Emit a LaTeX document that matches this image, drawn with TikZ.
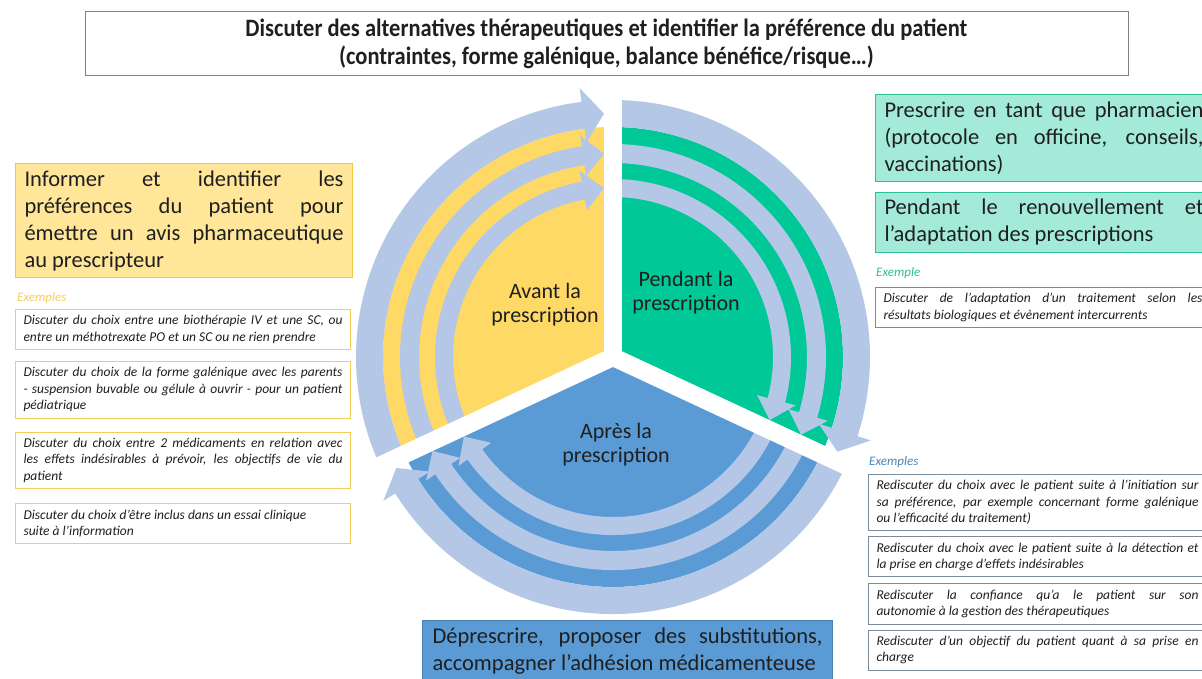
\documentclass[tikz,border=0pt]{standalone}
\usepackage{fontspec}
\setmainfont{Carlito}
\newfontfamily\titlefont[FakeStretch=0.9]{Carlito}
\usetikzlibrary{positioning}

\definecolor{yel}{HTML}{FFD966}
\definecolor{grn}{HTML}{00C896}
\definecolor{blu}{HTML}{5B9BD5}
\definecolor{lblu}{HTML}{B4C7E7}
\definecolor{yelbox}{HTML}{FFE699}
\definecolor{yeldraw}{HTML}{F4C542}
\definecolor{yelex}{HTML}{F2CF5B}
\definecolor{grnbox}{HTML}{A3EBD8}
\definecolor{grndraw}{HTML}{2DBF97}
\definecolor{grnex}{HTML}{7F8C8D}
\definecolor{bluex}{HTML}{7A8B9C}
\definecolor{bludraw}{HTML}{4A7FB0}
\definecolor{txt}{HTML}{1F1F1F}

% one light blue band of the wheel, running clockwise, head at the gap
\newcommand{\ringarrow}[5]{%
  \pgfmathsetmacro\ramid{(#3+#4)/2}
  \pgfmathsetmacro\ratip{#2+asin(9/\ramid)}
  \pgfmathsetmacro\rahead{\ratip+deg(21/\ramid)}
  \pgfmathsetmacro\raout{#4+#5}
  \pgfmathsetmacro\rain{#3-#5}
  \fill[lblu] (#1:#4) arc[start angle=#1, end angle=\rahead, radius=#4]
    -- (\rahead:\raout) -- (\ratip:\ramid) -- (\rahead:\rain) -- (\rahead:#3)
    arc[start angle=\rahead, end angle=#1, radius=#3] -- cycle;
}

\tikzset{
  mainbox/.style 2 args={draw=#1, fill=#2, line width=1pt, text width=319pt,
    inner xsep=9pt, inner ysep=7pt, align=justify, text=txt,
    font=\fontsize{22.5}{27}\selectfont},
  exbox/.style={draw=#1, fill=white, line width=1pt, text width=319pt,
    inner xsep=8pt, inner ysep=6pt, align=justify, text=txt,
    font=\fontsize{13.5}{16.5}\selectfont\itshape},
  exlabel/.style={text=#1, font=\fontsize{13}{14}\selectfont\itshape,
    inner sep=0pt, anchor=west},
  phase/.style={align=center, text=txt, font=\fontsize{22}{24}\selectfont},
}

\begin{document}
\begin{tikzpicture}[x=1pt, y=1pt]
  \useasboundingbox (0,0) rectangle (1202,679);

  % the wheel
  \begin{scope}[shift={(613,322)}]
    \fill[yel] (0,0) -- (205:230) arc[start angle=205, end angle=90, radius=230] -- cycle;
    \fill[grn] (0,0) -- (90:230) arc[start angle=90, end angle=-25, radius=230] -- cycle;
    \fill[blu] (0,0) -- (335:230) arc[start angle=335, end angle=205, radius=230] -- cycle;

    \ringarrow{205}{90}{160}{178}{11}
    \ringarrow{205}{90}{194}{213}{11}
    \ringarrow{205}{90}{230}{257}{14}
    \ringarrow{90}{-25}{160}{178}{11}
    \ringarrow{90}{-25}{194}{213}{11}
    \ringarrow{90}{-25}{230}{257}{14}
    \ringarrow{335}{205}{160}{178}{11}
    \ringarrow{335}{205}{194}{213}{11}
    \ringarrow{335}{205}{230}{257}{14}

    \draw[white, line width=18] (0,0) -- (90:262);
    \draw[white, line width=18] (0,0) -- (205:262);
    \draw[white, line width=18] (0,0) -- (-25:262);
    \fill[white] (0,0) circle (10);
  \end{scope}

  \node[phase] (avant)   at (545,374) {Avant la\\prescription};
  \node[phase] (pendant) at (686,386) {Pendant la\\prescription};
  \node[phase] (apres)   at (616,234) {Après la\\prescription};

  % top
  \node[draw=gray, line width=1pt, minimum width=1043, minimum height=64,
        align=center, text=txt, font=\titlefont\bfseries\fontsize{25}{28}\selectfont]
        (disc) at (606.5,635)
        {Discuter des alternatives thérapeutiques et identifier la préférence du patient\\
         (contraintes, forme galénique, balance bénéfice/risque…)};

  % left: before
  \node[mainbox={yeldraw}{yelbox}, anchor=north west] (inf) at (15,516)
    {Informer et identifier les\linebreak préférences du patient pour\linebreak
     émettre un avis pharmaceutique\linebreak au prescripteur};
  \node[exlabel=yelex] (exa) at (17,381) {Exemples};
  \node[exbox=yelex, anchor=north west] (a1) at (15,370)
    {Discuter du choix entre une biothérapie IV et une SC, ou\linebreak
     entre un méthotrexate PO et un SC ou ne rien prendre};
  \node[exbox=yelex, below=11 of a1] (a2)
    {Discuter du choix de la forme galénique avec les parents\linebreak
     - suspension buvable ou gélule à ouvrir - pour un patient\linebreak pédiatrique};
  \node[exbox=yelex, below=13 of a2] (a3)
    {Discuter du choix entre 2 médicaments en relation avec\linebreak
     les effets indésirables à prévoir, les objectifs de vie du\linebreak patient};
  \node[exbox=yelex, below=14 of a3] (a4)
    {Discuter du choix d’être inclus dans un essai clinique\\suite à l’information};

  % right: during
  \node[mainbox={grndraw}{grnbox}, anchor=north west] (prs) at (875,585)
    {Prescrire en tant que pharmacien\linebreak (protocole en officine, conseils,\linebreak vaccinations)};
  \node[mainbox={grndraw}{grnbox}, below=10 of prs] (ren)
    {Pendant le renouvellement et\linebreak l’adaptation des prescriptions};
  \node[exlabel=grndraw] (exp) at (876,406) {Exemple};
  \node[exbox=grnex, anchor=north west] (p1) at (875,392)
    {Discuter de l’adaptation d’un traitement selon les\linebreak
     résultats biologiques et évènement intercurrents};

  % right: after
  \node[exlabel=blu!85!black] (exr) at (869,217) {Exemples};
  \node[exbox=bluex, text width=322pt, anchor=north west] (r1) at (868,205)
    {Rediscuter du choix avec le patient suite à l’initiation sur\linebreak
     sa préférence, par exemple concernant forme galénique\linebreak
     ou l’efficacité du traitement)};
  \node[exbox=bluex, text width=322pt, below=5 of r1] (r2)
    {Rediscuter du choix avec le patient suite à la détection et\linebreak
     la prise en charge d’effets indésirables};
  \node[exbox=bluex, text width=322pt, below=6 of r2] (r3)
    {Rediscuter la confiance qu’a le patient sur son\linebreak
     autonomie à la gestion des thérapeutiques};
  \node[exbox=bluex, text width=322pt, below=5 of r3] (r4)
    {Rediscuter d’un objectif du patient quant à sa prise en\linebreak charge};

  % bottom
  \node[draw=bludraw, fill=blu, line width=1pt, text width=390pt, inner xsep=10pt,
        inner ysep=7pt, align=justify, text=txt, anchor=north west,
        font=\fontsize{22.5}{27}\selectfont] (depr) at (422,59)
    {Déprescrire, proposer des substitutions,\linebreak accompagner l’adhésion médicamenteuse};
\end{tikzpicture}
\end{document}
